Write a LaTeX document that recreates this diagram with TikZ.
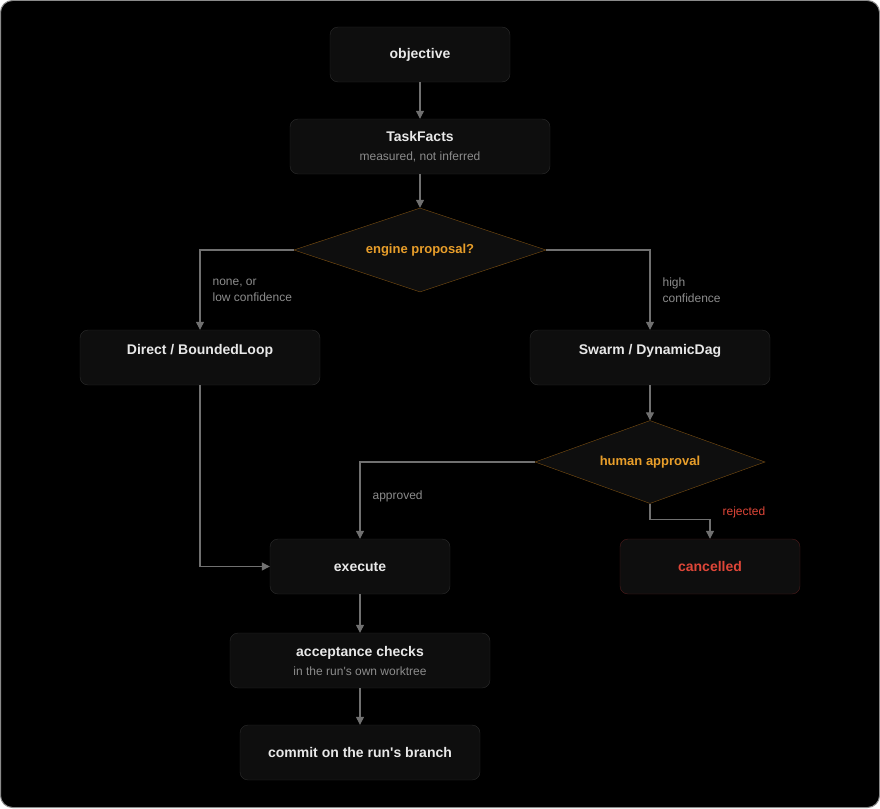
\documentclass[tikz,border=0pt]{standalone}
\usepackage{fontspec}
\setmainfont{Liberation Sans}
\usetikzlibrary{positioning,shapes.geometric,arrows.meta}
\definecolor{framec}{HTML}{8A8A8A}
\definecolor{boxfill}{HTML}{0E0E0E}
\definecolor{boxline}{HTML}{2C2C2C}
\definecolor{titlec}{HTML}{E8E8E8}
\definecolor{subc}{HTML}{8C8C8C}
\definecolor{flowc}{HTML}{707070}
\definecolor{amberline}{HTML}{7A4E12}
\definecolor{amber}{HTML}{E89E2A}
\definecolor{redline}{HTML}{4E1C1C}
\definecolor{redtext}{HTML}{DE4638}

\begin{document}
\begin{tikzpicture}[x=1pt,y=-1pt,
	box/.style={draw=boxline,fill=boxfill,rounded corners=8pt,minimum height=55pt,
		inner sep=0pt,align=center,text=titlec,font=\fontsize{14}{19}\selectfont\bfseries},
	decide/.style={diamond,draw=amberline,fill=boxfill,inner sep=0pt,aspect=3,
		text=amber,font=\fontsize{13}{16}\selectfont\bfseries},
	flow/.style={draw=flowc,line width=1.2pt,-{Triangle[length=8pt,width=8pt]}},
	note/.style={text=subc,font=\fontsize{12}{16}\selectfont,align=left,inner sep=0pt}]
		\useasboundingbox (0,0) rectangle (880,808);
		\draw[draw=framec,fill=black,rounded corners=12pt,line width=1pt] (0.5,0.5) rectangle (879.5,807.5);
		% boxes
		\node[box,minimum width=180pt] (obj) at (420,54.5) {objective};
		\node[box,minimum width=260pt] (tf) at (420,146.5) {TaskFacts\\{\fontsize{12}{14}\selectfont\mdseries\color{subc}measured, not inferred}};
		\node[decide,minimum width=252pt,minimum height=84pt] (ep) at (420,250) {engine proposal?};
		\node[box,minimum width=240pt] (dl) at (200,357.5) {Direct / BoundedLoop\\[-3pt]\mbox{}};
		\node[box,minimum width=240pt] (sw) at (650,357.5) {Swarm / DynamicDag\\[-3pt]\mbox{}};
		\node[decide,minimum width=230pt,minimum height=83pt] (ha) at (650,462) {human approval};
		\node[box,minimum width=180pt] (ex) at (360,566.5) {execute};
		\node[box,minimum width=180pt,draw=redline,text=redtext] (cn) at (710,566.5) {cancelled};
		\node[box,minimum width=260pt] (ac) at (360,660.5) {acceptance checks\\{\fontsize{12}{14}\selectfont\mdseries\color{subc}in the run\textquotesingle s own worktree}};
		\node[box,minimum width=240pt] (cm) at (360,752.5) {commit on the run\textquotesingle s branch};
		% connectors
		\draw[flow] (obj) -- (tf);
		\draw[flow] (tf) -- (ep);
		\draw[flow] (ep.west) -| node[note,pos=0.75,anchor=west,xshift=12pt] {none, or\\low confidence} (dl.north);
		\draw[flow] (ep.east) -| node[note,pos=0.75,anchor=west,xshift=12pt] {high\\confidence} (sw.north);
		\draw[flow] (dl.south) |- (ex.west);
		\draw[flow] (sw) -- (ha);
		\draw[flow] (ha.west) -| node[note,pos=0.75,anchor=west,xshift=12pt,yshift=4pt] {approved} (ex.north);
		\draw[flow] (ha.south) -- ++(0,16) -| node[note,pos=0.5,anchor=west,xshift=12pt,yshift=7pt,text=redtext] {rejected} (cn.north);
		\draw[flow] (ex) -- (ac);
		\draw[flow] (ac) -- (cm);
\end{tikzpicture}
\end{document}
